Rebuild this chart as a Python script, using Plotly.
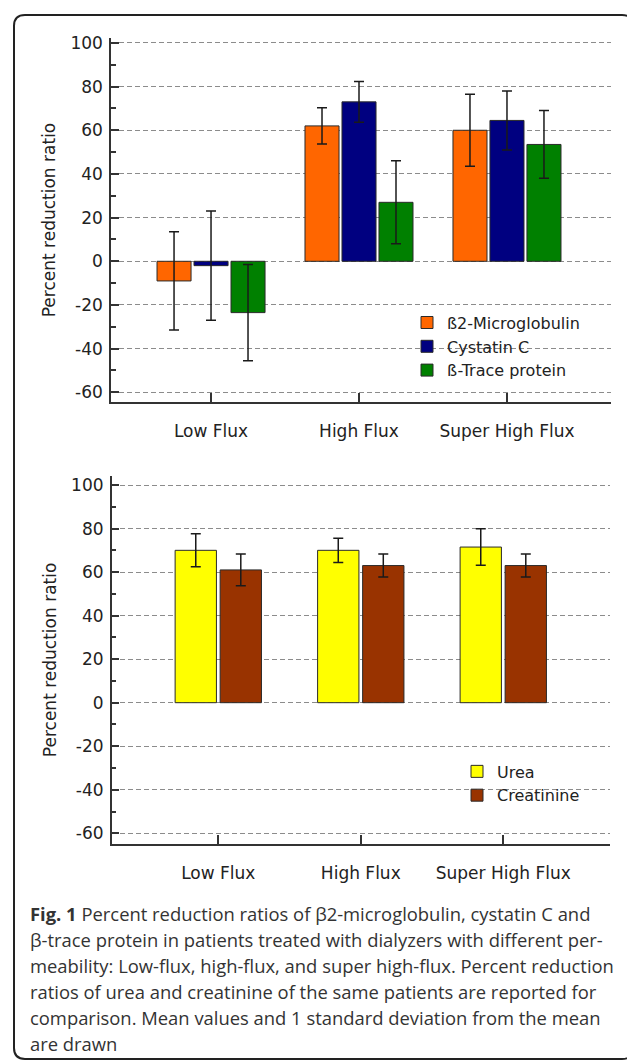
import plotly.graph_objects as go

# ---------------- data ----------------
categories = ["Low Flux", "High Flux", "Super High Flux"]

b2m_mean = [-9, 62, 60]
b2m_sd = [22.5, 8.3, 16.5]
cys_mean = [-2, 73, 64.5]
cys_sd = [25, 9.3, 13.5]
btp_mean = [-23.5, 27, 53.5]
btp_sd = [22, 19, 15.5]

urea_mean = [70, 70, 71.5]
urea_sd = [7.6, 5.6, 8.4]
creat_mean = [61, 63, 63]
creat_sd = [7.3, 5.3, 5.3]

top_names = ["ß2-Microglobulin", "Cystatin C", "ß-Trace protein"]
bottom_names = ["Urea", "Creatinine"]

y_tick_vals = [-60, -40, -20, 0, 20, 40, 60, 80, 100]
y_tick_text = ["-60", "-40", "-20", "0", "20", "40", "60", "80", "100"]

caption_lines = [
    "<b>Fig. 1</b> Percent reduction ratios of β2-microglobulin, cystatin C and",
    "β-trace protein in patients treated with dialyzers with different per-",
    "meability: Low-flux, high-flux, and super high-flux. Percent reduction",
    "ratios of urea and creatinine of the same patients are reported for",
    "comparison. Mean values and 1 standard deviation from the mean",
    "are drawn",
]

# ---------------- layout helpers ----------------
# page body has an 8px margin: the figure occupies window pixels 8..635 / 8..1061
OFF = 8
W, H = 635 - OFF, 1061 - OFF


def px(x):
    return (x - OFF) / W


def py(y):
    return 1 - (y - OFF) / H


FONT = "DejaVu Sans"
TXT = "#222222"
AX = "#333333"

fig = go.Figure()

top_colors = ["#FF6600", "#000080", "#008000"]
top_series = [(b2m_mean, b2m_sd), (cys_mean, cys_sd), (btp_mean, btp_sd)]
top_width = 0.23
top_centers = [-0.25, 0.0, 0.25]
for name, (m, s), c, cen in zip(top_names, top_series, top_colors, top_centers):
    fig.add_trace(go.Bar(
        x=categories, y=m, name=name,
        width=top_width, offset=cen - top_width / 2,
        marker=dict(color=c, line=dict(color="#2a2a2a", width=1)),
        error_y=dict(type="data", array=s, color="#1a1a1a", thickness=1.5, width=5),
        xaxis="x", yaxis="y", legend="legend",
    ))

bot_colors = ["#FFFF00", "#993300"]
bot_series = [(urea_mean, urea_sd), (creat_mean, creat_sd)]
bot_width = 0.29
bot_centers = [-0.158, 0.158]
for name, (m, s), c, cen in zip(bottom_names, bot_series, bot_colors, bot_centers):
    fig.add_trace(go.Bar(
        x=categories, y=m, name=name,
        width=bot_width, offset=cen - bot_width / 2,
        marker=dict(color=c, line=dict(color="#2a2a2a", width=1)),
        error_y=dict(type="data", array=s, color="#1a1a1a", thickness=1.5, width=5),
        xaxis="x2", yaxis="y2", legend="legend2",
    ))


def xaxis_cfg(domain, rng, anchor):
    return dict(
        domain=domain, range=rng, type="category", anchor=anchor,
        showline=True, linecolor=AX, linewidth=1.5,
        ticks="inside", ticklen=9, tickwidth=1.5, tickcolor=AX,
        showgrid=False, zeroline=False,
        tickfont=dict(family=FONT, size=17, color=TXT),
        ticklabelstandoff=13,
        fixedrange=True,
    )


def yaxis_cfg(domain, rng, anchor):
    return dict(
        domain=domain, range=rng, anchor=anchor,
        tickmode="array", tickvals=y_tick_vals, ticktext=y_tick_text,
        showline=True, linecolor=AX, linewidth=1.5,
        ticks="inside", ticklen=8, tickwidth=1.5, tickcolor=AX,
        minor=dict(ticks="inside", ticklen=5, tickwidth=1.5, tickcolor=AX,
                   dtick=10, tick0=0, showgrid=False),
        showgrid=True, gridcolor="#8c8c8c", gridwidth=1, griddash="5px,3px",
        zeroline=False,
        tickfont=dict(family=FONT, size=17, color=TXT),
        ticklabelstandoff=3,
        title=dict(text="Percent reduction ratio",
                   font=dict(family=FONT, size=17, color=TXT), standoff=10),
        fixedrange=True,
    )


xa1 = xaxis_cfg([px(111), px(611)], [-0.676, 2.703], "y")
ya1 = yaxis_cfg([py(399), py(33)], [-64.5, 102.3], "x")
xa2 = xaxis_cfg([px(111.7), px(610)], [-0.748, 2.749], "y2")
ya2 = yaxis_cfg([py(842.7), py(473.3)], [-64.8, 104.1], "x2")

legend_common = dict(
    xanchor="left", yanchor="top",
    font=dict(family=FONT, size=16, color=TXT),
    bgcolor="rgba(0,0,0,0)", borderwidth=0, tracegroupgap=0,
    itemclick=False, itemdoubleclick=False,
)

# rounded border box (window pixel coordinates)
x0, y0, x1, y1, r = 14, 10, 633, 1059, 11
path = (
    f"M {px(x0 + r)},{py(y0)} L {px(x1 - r)},{py(y0)} "
    f"Q {px(x1)},{py(y0)} {px(x1)},{py(y0 + r)} "
    f"L {px(x1)},{py(y1 - r)} Q {px(x1)},{py(y1)} {px(x1 - r)},{py(y1)} "
    f"L {px(x0 + r)},{py(y1)} Q {px(x0)},{py(y1)} {px(x0)},{py(y1 - r)} "
    f"L {px(x0)},{py(y0 + r)} Q {px(x0)},{py(y0)} {px(x0 + r)},{py(y0)} Z"
)

annotations = []
for i, line in enumerate(caption_lines):
    annotations.append(dict(
        text=line, xref="paper", yref="paper",
        x=px(28), y=py(913 + 26 * i), xanchor="left", yanchor="middle",
        showarrow=False, align="left",
        font=dict(family="Open Sans", size=18.4, color="#333333"),
    ))

fig.update_layout(
    width=W, height=H,
    margin=dict(l=0, r=0, t=0, b=0),
    paper_bgcolor="white", plot_bgcolor="white",
    barmode="overlay",
    showlegend=True,
    xaxis=xa1, yaxis=ya1, xaxis2=xa2, yaxis2=ya2,
    legend=dict(x=px(407), y=py(302), **legend_common),
    legend2=dict(x=px(457), y=py(753), **legend_common),
    shapes=[dict(type="path", path=path, xref="paper", yref="paper",
                 line=dict(color="#222222", width=2), layer="above")],
    annotations=annotations,
)

fig.write_html("out.html")
